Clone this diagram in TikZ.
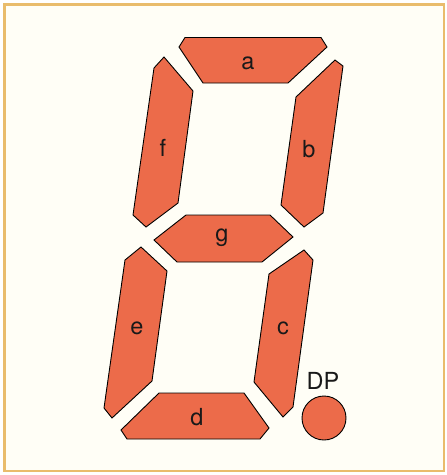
\documentclass[tikz,border=0pt]{standalone}
\usepackage{fontspec}
\setmainfont{TeX Gyre Heros}
\definecolor{segfill}{HTML}{EC6B4A}
\definecolor{frame}{HTML}{E9BC6C}
\definecolor{paper}{HTML}{FFFEF6}
\tikzset{
  seg/.style={fill=segfill, draw=black, line width=0.9pt, line join=miter},
  seglabel/.style={font=\fontsize{23.5}{23.5}\selectfont, text=black!90, inner sep=0pt},
}
\begin{document}
\begin{tikzpicture}[x=1pt,y=-1pt]
\useasboundingbox (0,0) rectangle (447,475);
\fill[white] (0,0) rectangle (447,475);
\draw[frame, fill=paper, line width=2.3pt] (4.5,4.5) rectangle (444,471);
% a
\draw[seg] (185,37.5) -- (321,37.5) -- (327,47) -- (288,83) -- (203,83) -- (179,47) -- cycle;
% f
\draw[seg] (164,57) -- (193,91) -- (178,203) -- (146,227) -- (133,215) -- (154,68) -- cycle;
% b
\draw[seg] (335,60) -- (343,66) -- (323,213) -- (304,227) -- (281,205) -- (296,97) -- cycle;
% g
\draw[seg] (186,215) -- (270,215) -- (293,237) -- (262,262) -- (177,262) -- (154,240) -- cycle;
% e
\draw[seg] (141,247) -- (167,271) -- (152,381) -- (112,418) -- (104,408) -- (125,260) -- cycle;
% c
\draw[seg] (304,250) -- (313,260) -- (293,407) -- (283,417) -- (254,382) -- (269,274) -- cycle;
% d
\draw[seg] (159,393) -- (244,393) -- (269,428) -- (260,439) -- (127,439) -- (121,430) -- cycle;
% DP
\draw[seg] (324,418) circle (22);
\node[seglabel] (la) at (248,63) {a};
\node[seglabel] (lf) at (163,148) {f};
\node[seglabel] (lb) at (309,149) {b};
\node[seglabel] (lg) at (222,238) {g};
\node[seglabel] (le) at (137,328) {e};
\node[seglabel] (lc) at (283,328) {c};
\node[seglabel] (ld) at (197,417) {d};
\node[seglabel] (ldp) at (323,381) {DP};
\end{tikzpicture}
\end{document}
